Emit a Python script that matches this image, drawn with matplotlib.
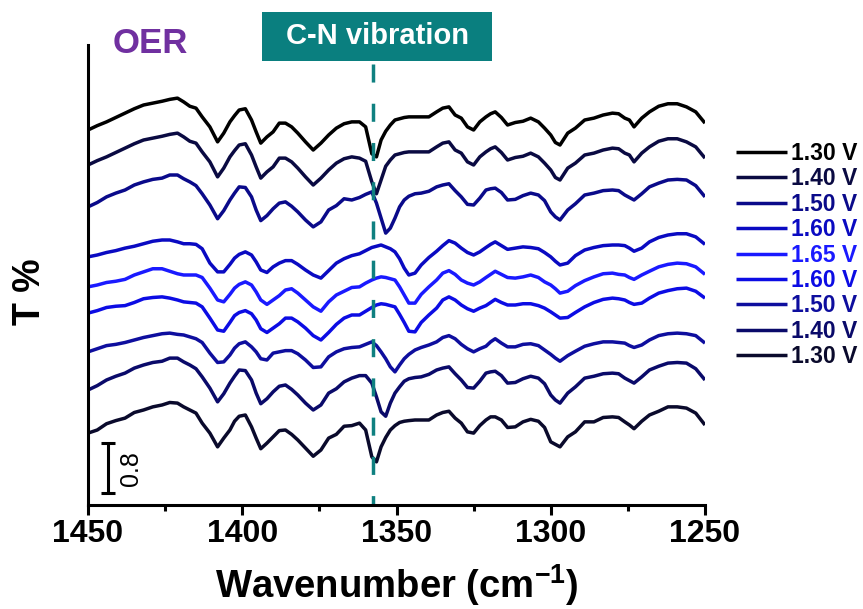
import numpy as np
import matplotlib
matplotlib.use("Agg")
import matplotlib.pyplot as plt
from matplotlib.patches import Rectangle

plt.rcParams['font.family'] = ['Liberation Sans', 'DejaVu Sans']
plt.rcParams['font.weight'] = 'bold'
plt.rcParams['mathtext.fontset'] = 'custom'
plt.rcParams['mathtext.rm'] = 'Liberation Sans:bold'
plt.rcParams['mathtext.bf'] = 'Liberation Sans:bold'

# wavenumbers (cm-1) at which the spectra were read
wavenumber = [1450, 1447, 1444, 1441, 1438, 1435, 1432, 1429, 1426, 1423.5,
              1421, 1419, 1417, 1415, 1413, 1410.5, 1408, 1406, 1404, 1402.5,
              1401, 1399, 1397, 1395.5, 1394, 1392, 1390, 1388, 1386, 1384,
              1382, 1379.5, 1377, 1374.5, 1372, 1369.5, 1367, 1364.5, 1362, 1360,
              1358, 1356.5, 1355, 1353.5, 1352, 1350.5, 1349, 1347.5, 1346, 1344,
              1342, 1339.5, 1337, 1335, 1333, 1331, 1329, 1327, 1325, 1323,
              1321, 1319.5, 1318, 1316, 1314, 1311.5, 1309, 1306.5, 1304, 1302,
              1300, 1298.5, 1297, 1294.5, 1292, 1289, 1286, 1283, 1280, 1278,
              1276, 1274.5, 1273, 1270.5, 1268, 1265, 1262, 1259, 1256, 1253, 1250]

# stacked T % spectra, top to bottom (offsets already included)
t_130_up = [6.00, 6.07, 6.13, 6.20, 6.27, 6.34, 6.40, 6.43, 6.46, 6.49,
            6.51, 6.45, 6.38, 6.35, 6.21, 6.05, 5.81, 5.95, 6.13, 6.23,
            6.32, 6.34, 6.16, 5.97, 5.79, 5.89, 5.97, 6.11, 6.11, 6.05,
            5.95, 5.81, 5.68, 5.79, 5.92, 6.03, 6.10, 6.13, 6.13, 6.05,
            5.62, 5.57, 5.84, 5.98, 6.08, 6.16, 6.18, 6.20, 6.21, 6.21,
            6.21, 6.21, 6.29, 6.35, 6.37, 6.24, 6.19, 6.05, 6.00, 6.13,
            6.21, 6.26, 6.29, 6.20, 6.08, 6.12, 6.14, 6.19, 6.13, 6.03,
            5.92, 5.80, 5.76, 5.95, 6.03, 6.16, 6.19, 6.24, 6.27, 6.26,
            6.19, 6.16, 6.05, 6.19, 6.29, 6.38, 6.42, 6.42, 6.37, 6.29, 6.11]
t_140_up = [5.44, 5.51, 5.57, 5.64, 5.71, 5.78, 5.84, 5.87, 5.90, 5.93,
            5.95, 5.89, 5.82, 5.79, 5.65, 5.49, 5.25, 5.39, 5.57, 5.67,
            5.76, 5.78, 5.60, 5.41, 5.23, 5.33, 5.41, 5.55, 5.55, 5.49,
            5.39, 5.25, 5.12, 5.23, 5.36, 5.47, 5.54, 5.57, 5.55, 5.50,
            5.17, 4.98, 5.20, 5.42, 5.52, 5.60, 5.62, 5.64, 5.65, 5.65,
            5.65, 5.65, 5.73, 5.79, 5.81, 5.68, 5.63, 5.49, 5.44, 5.57,
            5.65, 5.70, 5.73, 5.64, 5.52, 5.56, 5.58, 5.63, 5.57, 5.47,
            5.36, 5.24, 5.20, 5.39, 5.47, 5.60, 5.63, 5.68, 5.71, 5.70,
            5.63, 5.60, 5.49, 5.63, 5.73, 5.82, 5.86, 5.86, 5.81, 5.73, 5.55]
t_150_up = [4.77, 4.84, 4.93, 4.99, 5.04, 5.12, 5.17, 5.21, 5.23, 5.28,
            5.28, 5.22, 5.17, 5.11, 4.98, 4.80, 4.58, 4.71, 4.88, 4.99,
            5.09, 5.08, 4.93, 4.72, 4.55, 4.63, 4.74, 4.83, 4.85, 4.78,
            4.69, 4.56, 4.45, 4.53, 4.72, 4.79, 4.90, 4.88, 4.92, 4.97,
            5.01, 4.83, 4.59, 4.35, 4.43, 4.59, 4.77, 4.88, 4.94, 4.98,
            4.99, 5.02, 5.09, 5.12, 5.14, 5.03, 4.93, 4.81, 4.80, 4.91,
            5.04, 5.06, 5.07, 5.00, 4.88, 4.89, 4.95, 4.99, 4.96, 4.87,
            4.69, 4.61, 4.56, 4.72, 4.82, 4.96, 4.99, 5.03, 5.04, 5.03,
            4.96, 4.92, 4.88, 4.98, 5.09, 5.15, 5.20, 5.21, 5.20, 5.11, 4.93]
t_160_up = [3.97, 4.00, 4.04, 4.07, 4.11, 4.14, 4.18, 4.22, 4.24, 4.24,
            4.21, 4.18, 4.18, 4.17, 4.10, 3.87, 3.73, 3.73, 3.85, 3.95,
            4.01, 4.05, 4.00, 3.89, 3.76, 3.72, 3.81, 3.87, 3.91, 3.91,
            3.85, 3.76, 3.68, 3.63, 3.75, 3.87, 3.94, 3.99, 4.02, 4.07,
            4.12, 4.14, 4.16, 4.13, 4.10, 4.05, 3.94, 3.79, 3.68, 3.71,
            3.84, 3.96, 4.06, 4.15, 4.23, 4.19, 4.11, 4.04, 4.00, 4.05,
            4.12, 4.17, 4.21, 4.15, 4.09, 4.11, 4.13, 4.12, 4.10, 4.04,
            3.97, 3.90, 3.84, 3.87, 3.99, 4.08, 4.12, 4.15, 4.16, 4.16,
            4.15, 4.11, 4.06, 4.11, 4.21, 4.28, 4.32, 4.34, 4.34, 4.29, 4.17]
t_165 = [3.49, 3.52, 3.56, 3.58, 3.61, 3.68, 3.73, 3.78, 3.78, 3.74,
         3.70, 3.68, 3.68, 3.68, 3.64, 3.47, 3.28, 3.25, 3.37, 3.47,
         3.53, 3.57, 3.52, 3.41, 3.28, 3.21, 3.28, 3.35, 3.44, 3.46,
         3.39, 3.28, 3.17, 3.10, 3.25, 3.36, 3.42, 3.48, 3.49, 3.55,
         3.60, 3.63, 3.65, 3.64, 3.62, 3.60, 3.49, 3.36, 3.23, 3.23,
         3.37, 3.49, 3.60, 3.71, 3.75, 3.69, 3.60, 3.55, 3.52, 3.57,
         3.64, 3.69, 3.74, 3.69, 3.64, 3.63, 3.65, 3.68, 3.64, 3.57,
         3.52, 3.46, 3.39, 3.42, 3.51, 3.59, 3.65, 3.70, 3.71, 3.69,
         3.68, 3.64, 3.61, 3.68, 3.74, 3.81, 3.85, 3.87, 3.86, 3.81, 3.69]
t_160_down = [3.07, 3.11, 3.16, 3.18, 3.19, 3.24, 3.30, 3.32, 3.33, 3.31,
              3.28, 3.25, 3.24, 3.23, 3.17, 2.99, 2.80, 2.78, 2.92, 3.03,
              3.08, 3.11, 3.06, 2.96, 2.82, 2.76, 2.83, 2.90, 2.99, 2.99,
              2.93, 2.83, 2.71, 2.64, 2.76, 2.89, 2.99, 3.04, 3.04, 3.10,
              3.16, 3.20, 3.22, 3.21, 3.19, 3.17, 3.05, 2.92, 2.78, 2.77,
              2.92, 3.04, 3.15, 3.28, 3.33, 3.28, 3.20, 3.14, 3.10, 3.15,
              3.19, 3.24, 3.29, 3.24, 3.20, 3.20, 3.22, 3.22, 3.19, 3.15,
              3.09, 3.04, 2.99, 3.00, 3.08, 3.17, 3.24, 3.29, 3.31, 3.30,
              3.28, 3.24, 3.21, 3.23, 3.31, 3.39, 3.43, 3.46, 3.47, 3.42, 3.31]
t_150_down = [2.45, 2.50, 2.55, 2.57, 2.60, 2.64, 2.68, 2.71, 2.74, 2.75,
              2.73, 2.72, 2.69, 2.66, 2.60, 2.43, 2.28, 2.29, 2.40, 2.51,
              2.58, 2.61, 2.53, 2.45, 2.34, 2.32, 2.43, 2.45, 2.47, 2.47,
              2.42, 2.32, 2.20, 2.21, 2.37, 2.45, 2.50, 2.52, 2.53, 2.57,
              2.61, 2.55, 2.45, 2.34, 2.21, 2.13, 2.24, 2.34, 2.41, 2.48,
              2.52, 2.56, 2.61, 2.68, 2.71, 2.66, 2.57, 2.50, 2.45, 2.50,
              2.54, 2.61, 2.66, 2.59, 2.53, 2.53, 2.57, 2.58, 2.55, 2.48,
              2.41, 2.35, 2.30, 2.39, 2.46, 2.54, 2.58, 2.61, 2.61, 2.60,
              2.59, 2.55, 2.52, 2.56, 2.64, 2.71, 2.74, 2.75, 2.74, 2.71, 2.59]
t_140_down = [1.84, 1.91, 2.00, 2.06, 2.11, 2.19, 2.24, 2.28, 2.30, 2.35,
              2.35, 2.29, 2.24, 2.18, 2.05, 1.87, 1.65, 1.78, 1.95, 2.06,
              2.16, 2.15, 2.00, 1.79, 1.62, 1.70, 1.81, 1.90, 1.92, 1.85,
              1.76, 1.63, 1.52, 1.60, 1.79, 1.86, 1.97, 2.03, 2.07, 2.07,
              1.95, 1.73, 1.49, 1.42, 1.63, 1.79, 1.89, 1.98, 2.02, 2.04,
              2.05, 2.09, 2.16, 2.19, 2.21, 2.10, 2.00, 1.88, 1.87, 1.98,
              2.11, 2.13, 2.14, 2.07, 1.95, 1.96, 2.02, 2.06, 2.03, 1.94,
              1.76, 1.68, 1.63, 1.79, 1.89, 2.03, 2.06, 2.10, 2.11, 2.10,
              2.03, 1.99, 1.95, 2.05, 2.16, 2.22, 2.27, 2.28, 2.27, 2.18, 2.00]
t_130_down = [1.15, 1.20, 1.30, 1.35, 1.39, 1.48, 1.52, 1.57, 1.60, 1.64,
              1.63, 1.57, 1.52, 1.47, 1.31, 1.15, 0.93, 1.07, 1.20, 1.34,
              1.42, 1.44, 1.25, 1.07, 0.90, 0.99, 1.09, 1.19, 1.20, 1.13,
              1.04, 0.91, 0.78, 0.88, 1.07, 1.13, 1.26, 1.27, 1.31, 1.20,
              0.77, 0.69, 0.93, 1.08, 1.20, 1.27, 1.32, 1.34, 1.35, 1.36,
              1.36, 1.36, 1.44, 1.48, 1.50, 1.39, 1.31, 1.17, 1.15, 1.27,
              1.36, 1.41, 1.41, 1.36, 1.24, 1.25, 1.33, 1.37, 1.34, 1.24,
              1.01, 0.97, 0.93, 1.09, 1.17, 1.33, 1.33, 1.40, 1.41, 1.40,
              1.33, 1.28, 1.22, 1.34, 1.44, 1.50, 1.57, 1.57, 1.55, 1.47, 1.28]

spectra = [t_130_up, t_140_up, t_150_up, t_160_up, t_165,
           t_160_down, t_150_down, t_140_down, t_130_down]
labels = ["1.30 V", "1.40 V", "1.50 V", "1.60 V", "1.65 V",
          "1.60 V", "1.50 V", "1.40 V", "1.30 V"]
colors = ["#000000", "#0a0a42", "#0a0a8a", "#0a0ac2", "#1a1aff",
          "#0c0ce4", "#0e0e9e", "#0a0a6a", "#0a0a2c"]

cn_peak = 1357.5      # C-N vibration position
scale_bar = 0.8

fig = plt.figure(figsize=(8.63, 6.09), dpi=100)
ax = fig.add_axes([0.1020, 0.1708, 0.7149, 0.7553])

for y, lab, c in zip(spectra, labels, colors):
    ax.plot(wavenumber, y, color=c, lw=2.5, label=lab,
            solid_joinstyle='round', solid_capstyle='butt')

ax.plot([cn_peak, cn_peak], [7.06, 0], color="#0f8080", lw=2.5,
        linestyle=(0, (5.2, 6.1)), clip_on=False)

# scale bar
ax.errorbar([1443.5], [0.19 + scale_bar / 2], yerr=scale_bar / 2, fmt='none',
            ecolor='black', elinewidth=2.2, capsize=5, capthick=2.2)
ax.text(1436, 0.58, "0.8", rotation=90, ha='center', va='center',
        fontsize=18, fontweight='normal')

ax.set_xlim(1450, 1250)
ax.set_ylim(0, 7.36)
ax.set_xticks([1450, 1400, 1350, 1300, 1250])
ax.set_xticks([1425, 1375, 1325, 1275], minor=True)
ax.set_yticks([])
for s in ['top', 'right']:
    ax.spines[s].set_visible(False)
for s in ['left', 'bottom']:
    ax.spines[s].set_linewidth(2.2)
ax.tick_params(axis='x', which='major', length=7, width=2.2, labelsize=23, pad=3)
ax.tick_params(axis='x', which='minor', length=4, width=2.2)

ax.set_xlabel("Wavenumber (cm$^{\\mathbf{-1}}$)", fontsize=27.5, fontweight='bold')
ax.xaxis.set_label_coords(0.5, -0.125)
ax.set_ylabel("T %", fontsize=27, fontweight='bold')
ax.yaxis.set_label_coords(-0.065, 0.463)

ax.text(0.0405, 0.9826, "OER", transform=ax.transAxes, color="#7030a0",
        fontsize=25, fontweight='bold', va='baseline', ha='left')

ax.add_patch(Rectangle((0.282, 0.9652), 0.3728, 0.1065, transform=ax.transAxes,
                       facecolor="#0a7f7f", edgecolor='none', clip_on=False))
ax.text(0.4685, 1.0185, "C-N vibration", transform=ax.transAxes, color='white',
        fontsize=21, fontweight='bold', ha='center', va='center')

ax.legend(loc='upper left', bbox_to_anchor=(0.853, 0.767), bbox_transform=fig.transFigure,
          frameon=False, fontsize=16.5, handlelength=2.2, handletextpad=0.2,
          labelspacing=0.105, borderaxespad=0, borderpad=0, labelcolor='linecolor')

fig.savefig("out.png", dpi=100)
